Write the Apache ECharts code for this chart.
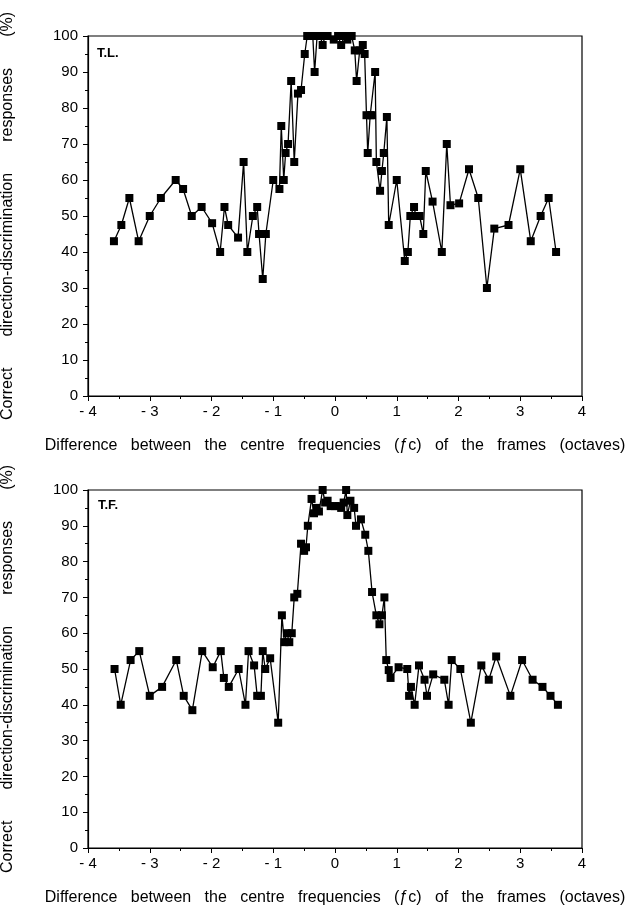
<!DOCTYPE html>
<html>
<head>
<meta charset="utf-8">
<script src="https://cdn.jsdelivr.net/npm/echarts@6/dist/echarts.min.js"></script>
<style>
  html, body { margin: 0; padding: 0; background: #fff; }
  #main { width: 641px; height: 909px; }
</style>
</head>
<body>
<div id="main"></div>
<script>
// T.L. observer
const tlX = [-3.58, -3.46, -3.33, -3.18, -3.0, -2.82, -2.58, -2.46, -2.32, -2.16, -1.99, -1.86, -1.79, -1.73, -1.57, -1.48, -1.42, -1.33, -1.26, -1.23, -1.17, -1.12,
  -1.0, -0.9, -0.87, -0.83, -0.8, -0.76, -0.71, -0.66, -0.6, -0.55, -0.49, -0.45, -0.4, -0.36, -0.33, -0.29, -0.24, -0.2, -0.16, -0.12,
  -0.02, 0.05, 0.1, 0.15, 0.2, 0.27, 0.32, 0.35, 0.4, 0.45, 0.48, 0.51, 0.53, 0.57, 0.6, 0.65, 0.67, 0.73, 0.76, 0.79, 0.84, 0.87,
  1.0, 1.13, 1.18, 1.22, 1.28, 1.31, 1.37, 1.43, 1.47, 1.58, 1.73, 1.81, 1.87, 2.01, 2.17, 2.32, 2.46, 2.58, 2.81, 3.0, 3.17, 3.33, 3.46, 3.58];
const tlY = [43, 47.5, 55, 43, 50, 55, 60, 57.5, 50, 52.5, 48, 40, 52.5, 47.5, 44, 65, 40, 50, 52.5, 45, 32.5, 45,
  60, 57.5, 75, 60, 67.5, 70, 87.5, 65, 84, 85, 95, 100, 100, 100, 90, 100, 100, 97.5, 100, 100,
  99, 100, 97.5, 100, 99, 100, 96, 87.5, 96, 97.5, 95, 78, 67.5, 78, 78, 90, 65, 57, 62.5, 67.5, 77.5, 47.5,
  60, 37.5, 40, 50, 52.5, 50, 50, 45, 62.5, 54, 40, 70, 53, 53.5, 63, 55, 30, 46.5, 47.5, 63, 43, 50, 55, 40];

// T.F. observer
const tfX = [-3.57, -3.47, -3.31, -3.17, -3.0, -2.8, -2.57, -2.45, -2.31, -2.15, -1.98, -1.85, -1.8, -1.72, -1.56, -1.45, -1.4, -1.31, -1.26, -1.2, -1.17, -1.13,
  -1.05, -0.92, -0.86, -0.82, -0.78, -0.74, -0.7, -0.66, -0.61, -0.55, -0.5, -0.47, -0.44, -0.38, -0.34, -0.3, -0.26, -0.2, -0.16, -0.12, -0.07,
  0.0, 0.06, 0.1, 0.14, 0.18, 0.2, 0.25, 0.31, 0.34, 0.42, 0.49, 0.54, 0.6, 0.67, 0.72, 0.76, 0.8, 0.83, 0.87, 0.9,
  1.03, 1.17, 1.2, 1.23, 1.29, 1.36, 1.45, 1.49, 1.59, 1.77, 1.84, 1.89, 2.03, 2.2, 2.37, 2.49, 2.61, 2.84, 3.03, 3.2, 3.36, 3.49, 3.61];
const tfY = [50, 40, 52.5, 55, 42.5, 45, 52.5, 42.5, 38.5, 55, 50.5, 55, 47.5, 45, 50, 40, 55, 51, 42.5, 42.5, 55, 50,
  53, 35, 65, 57.5, 60, 57.5, 60, 70, 71, 85, 83, 84, 90, 97.5, 93.5, 95, 94, 100, 96.5, 97, 95.5,
  95.5, 95.5, 95, 96.5, 100, 93, 97, 95, 90, 91.8, 87.5, 83, 71.5, 65, 62.5, 65, 70, 52.5, 49.7, 47.5,
  50.5, 50, 42.5, 45, 40, 51, 47, 42.5, 48.5, 47, 40, 52.5, 50, 35, 51, 47, 53.5, 42.5, 52.5, 47, 45, 42.5, 40];

const yTicks = [0, 10, 20, 30, 40, 50, 60, 70, 80, 90, 100];
const xTicks = [-4, -3, -2, -1, 0, 1, 2, 3, 4];

const xTitle = 'Difference   between   the   centre   frequencies   (ƒc)   of   the   frames   (octaves)';
const yTitle = 'Correct       direction-discrimination       responses       (%)';

const pairs = (xs, ys) => xs.map((x, i) => [x, ys[i]]);

const font = 'Liberation Sans, Arial, Helvetica, sans-serif';
const grids = [
  { left: 88, right: 59, top: 36, height: 360 },
  { left: 88, right: 59, top: 490, height: 358 },
];

function xAxis(gridIndex) {
  return {
    type: 'value',
    gridIndex,
    min: xTicks[0],
    max: xTicks[xTicks.length - 1],
    interval: 1,
    name: xTitle,
    nameLocation: 'middle',
    nameGap: 42,
    nameTextStyle: { fontFamily: font, fontSize: 16, color: '#000' },
    axisLine: { onZero: false, lineStyle: { color: '#000', width: 1.2 } },
    axisTick: { length: 5, lineStyle: { color: '#000' } },
    minorTick: { show: true, splitNumber: 2, length: 3, lineStyle: { color: '#000' } },
    splitLine: { show: false },
    axisLabel: {
      color: '#000', fontFamily: font, fontSize: 15, margin: 8,
      formatter: (v) => (v < 0 ? '- ' + (-v) : String(v)),
    },
  };
}

function yAxis(gridIndex) {
  return {
    type: 'value',
    gridIndex,
    min: yTicks[0],
    max: yTicks[yTicks.length - 1],
    interval: 10,
    name: yTitle,
    nameLocation: 'middle',
    nameGap: 72,
    nameTextStyle: { fontFamily: font, fontSize: 16, color: '#000' },
    axisLine: { show: true, onZero: false, lineStyle: { color: '#000', width: 1.2 } },
    axisTick: { show: true, length: 5, lineStyle: { color: '#000' } },
    minorTick: { show: true, splitNumber: 2, length: 3, lineStyle: { color: '#000' } },
    splitLine: { show: false },
    axisLabel: { color: '#000', fontFamily: font, fontSize: 15, margin: 10 },
  };
}

function series(idx, xs, ys) {
  return {
    type: 'line',
    xAxisIndex: idx,
    yAxisIndex: idx,
    data: pairs(xs, ys),
    symbol: 'rect',
    symbolSize: 8,
    showSymbol: true,
    lineStyle: { color: '#000', width: 1.3 },
    itemStyle: { color: '#000' },
    animation: false,
  };
}

const chart = echarts.init(document.getElementById('main'), null, { renderer: 'canvas' });
chart.setOption({
  backgroundColor: '#fff',
  animation: false,
  title: [
    { text: 'T.L.', left: 92, top: 42, textStyle: { fontFamily: font, fontSize: 13, fontWeight: 'bold', color: '#000' } },
    { text: 'T.F.', left: 93, top: 494, textStyle: { fontFamily: font, fontSize: 13, fontWeight: 'bold', color: '#000' } },
  ],
  grid: grids.map((g) => Object.assign({
    show: true, borderColor: '#000', borderWidth: 1.2, backgroundColor: 'transparent',
    containLabel: false, outerBoundsMode: 'none',
  }, g)),
  xAxis: [xAxis(0), xAxis(1)],
  yAxis: [yAxis(0), yAxis(1)],
  series: [series(0, tlX, tlY), series(1, tfX, tfY)],
});
</script>
</body>
</html>
